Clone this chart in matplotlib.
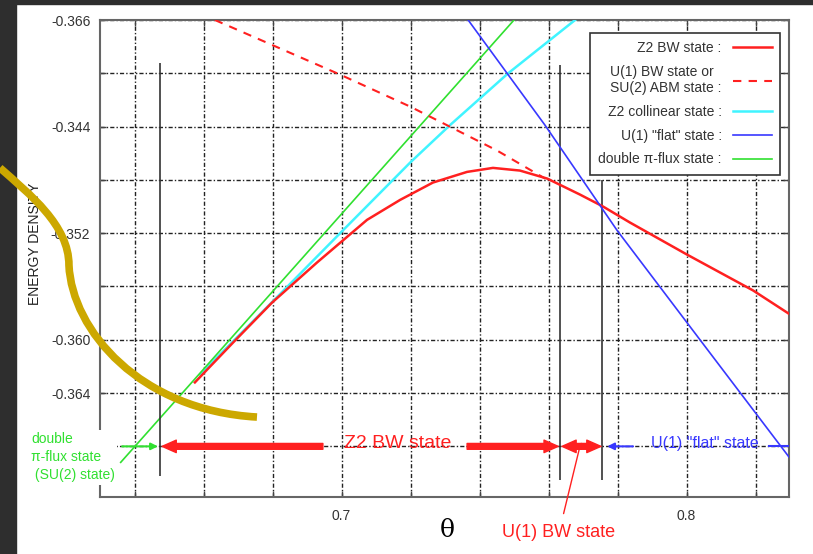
import numpy as np
import matplotlib
matplotlib.use("Agg")
import matplotlib.pyplot as plt
from matplotlib.patches import Rectangle, PathPatch
from matplotlib.path import Path

plt.rcParams['font.family'] = ['Liberation Sans', 'DejaVu Sans']

# ── data (theta, energy density) ──────────────────────────────────────────────
z2bw_x = [0.6575, 0.6686, 0.6799, 0.6929, 0.7074, 0.7170, 0.7265, 0.7364,
          0.7439, 0.7517, 0.7596, 0.7691, 0.7758, 0.7836, 0.8001, 0.8193, 0.8300]
z2bw_y = [-0.3632, -0.3602, -0.3572, -0.3542, -0.3510, -0.3495, -0.3482, -0.3474,
          -0.3471, -0.3473, -0.3479, -0.3491, -0.3500, -0.3512, -0.3536, -0.3563, -0.3581]

u1bw_x = [0.6633, 0.6996, 0.7199, 0.7306, 0.7451, 0.7590]
u1bw_y = [-0.3360, -0.3401, -0.3425, -0.3439, -0.3458, -0.3479]

coll_x = [0.6590, 0.6813, 0.6996, 0.7199, 0.7314, 0.7483, 0.7677]
coll_y = [-0.3626, -0.3568, -0.3520, -0.3467, -0.3439, -0.3400, -0.3360]

flat_x = [0.7367, 0.7590, 0.7799, 0.8039, 0.8297]
flat_y = [-0.3360, -0.3439, -0.3518, -0.3600, -0.3688]

dflux_x = [0.6360, 0.7500]
dflux_y = [-0.3692, -0.3360]

# phase boundaries
bound_x = [0.6474, 0.7633, 0.7755]
bound_top = [-0.3392, -0.3394, -0.3480]
bound_bottom = [-0.3702, -0.3705, -0.3705]

# hand-drawn highlight stroke (bezier control points)
mark_x = [0.6010, 0.6097, 0.6210, 0.6210, 0.6219, 0.6416, 0.6755]
mark_y = [-0.3471, -0.3491, -0.3514, -0.3544, -0.3593, -0.3653, -0.3658]

x_ticks = [0.64, 0.66, 0.68, 0.70, 0.72, 0.74, 0.76, 0.78, 0.80, 0.82]
x_labels = ['', '', '', '0.7', '', '', '', '', '0.8', '']
y_ticks = [-0.368, -0.364, -0.360, -0.356, -0.352, -0.348, -0.344, -0.340, -0.336]
y_labels = ['', '-0.364', '-0.360', '', '-0.352', '', '-0.344', '', '-0.366']

ARROW_Y = -0.368

RED = '#ff2020'
CYAN = '#40f4ff'
BLUE = '#3838ff'
GREEN = '#30e030'

fig = plt.figure(figsize=(8.13, 5.54), dpi=100)
fig.patch.set_facecolor('white')
fig.patches.append(Rectangle((0, 0), 16 / 813, 1, transform=fig.transFigure,
                             color='#2e2e2e', zorder=-10))
fig.patches.append(Rectangle((0, 1 - 4 / 554), 1, 4 / 554, transform=fig.transFigure,
                             color='#2e2e2e', zorder=-10))

ax = fig.add_axes([100 / 813, 1 - 497 / 554, 689 / 813, 477 / 554])

ax.plot(z2bw_x, z2bw_y, color=RED, lw=1.8, label='Z2 BW state :', zorder=4)
ax.plot(u1bw_x, u1bw_y, color=RED, lw=1.5, ls=(0, (4, 3.5)),
        label='U(1) BW state or\nSU(2) ABM state :', zorder=4)
ax.plot(coll_x, coll_y, color=CYAN, lw=1.8, label='Z2 collinear state :', zorder=3)
ax.plot(flat_x, flat_y, color=BLUE, lw=1.2, label='U(1) "flat" state :', zorder=4)
ax.plot(dflux_x, dflux_y, color=GREEN, lw=1.2, label='double π-flux state :', zorder=3)

ax.vlines(bound_x, bound_bottom, bound_top, color='#333333', lw=1.2, zorder=3)

ax.set_xlim(0.63, 0.8297)
ax.set_ylim(-0.3718, -0.336)
ax.set_xticks(x_ticks)
ax.set_xticklabels(x_labels)
ax.set_yticks(y_ticks)
ax.set_yticklabels(y_labels)
ax.tick_params(direction='in', length=4, width=1, color='#444444', top=True, right=True,
               labelsize=10, labelcolor='#333333')
ax.tick_params(axis='x', pad=9)
ax.tick_params(axis='y', pad=7)
ax.grid(True, color='#222222', lw=1.0, ls=(0, (3, 1.5, 1, 1.5)))
for sp in ax.spines.values():
    sp.set_color('#666666')
    sp.set_linewidth(1.5)

ax.text(0.6112, -0.3528, 'ENERGY DENSITY', rotation=90, fontsize=10,
        color='#222222', ha='center', va='center', clip_on=False)
ax.text(0.7306, -0.3743, 'θ', fontsize=18, family=['DejaVu Serif'],
        ha='center', va='center', clip_on=False)

# ── phase arrows along the bottom ────────────────────────────────────────────
def big_arrow(tail, head, color):
    ax.annotate('', xy=(head, ARROW_Y), xytext=(tail, ARROW_Y),
                arrowprops=dict(arrowstyle='simple,head_length=0.85,head_width=0.75,tail_width=0.35',
                                color=color, mutation_scale=12, shrinkA=0, shrinkB=0),
                zorder=5)

def thin_arrow(tail, head, color):
    ax.annotate('', xy=(head, ARROW_Y), xytext=(tail, ARROW_Y),
                arrowprops=dict(arrowstyle='-|>', color=color, lw=1.5,
                                mutation_scale=10, shrinkA=0, shrinkB=0),
                zorder=5)

thin_arrow(0.6364, 0.6468, GREEN)
big_arrow(0.6946, 0.6480, RED)
big_arrow(0.7364, 0.7628, RED)
big_arrow(0.7695, 0.7639, RED)
big_arrow(0.7695, 0.7752, RED)
thin_arrow(0.7845, 0.7770, BLUE)
ax.plot([0.8240, 0.8297], [ARROW_Y, ARROW_Y], color=BLUE, lw=1.5, zorder=5)

ax.text(0.7164, ARROW_Y + 0.0002, 'Z2 BW state', fontsize=14, color=RED,
        ha='center', va='center', zorder=6)
ax.text(0.8054, ARROW_Y + 0.0002, 'U(1) "flat" state', fontsize=11.5, color=BLUE,
        ha='center', va='center', zorder=6)
ax.text(0.6100, -0.3688, 'double\nπ-flux state\n (SU(2) state)', fontsize=10,
        color=GREEN, ha='left', va='center', linespacing=1.4, clip_on=False,
        bbox=dict(facecolor='white', edgecolor='none', pad=1.5), zorder=6)
ax.annotate('U(1) BW state', xy=(0.7691, -0.3680), xytext=(0.7630, -0.3745),
            fontsize=13, color=RED, ha='center', va='center', annotation_clip=False,
            arrowprops=dict(arrowstyle='-', color=RED, lw=1.0, shrinkA=6, shrinkB=0))

# hand-drawn highlight
mark_path = Path(list(zip(mark_x, mark_y)),
                 [Path.MOVETO] + [Path.CURVE4] * 6)
ax.add_patch(PathPatch(mark_path, facecolor='none', edgecolor='#cca800', lw=5.5,
                       capstyle='butt', clip_on=False, zorder=7))

leg = ax.legend(loc='upper right', bbox_to_anchor=(680 / 689, 464 / 477), borderaxespad=0,
                markerfirst=False, fontsize=10, handlelength=2.8, labelspacing=0.7,
                fancybox=False, framealpha=1, edgecolor='#333333', borderpad=0.6)
leg.get_frame().set_linewidth(1.2)
for t in leg.get_texts():
    t.set_color('#333333')

fig.savefig('out.png', dpi=100)
